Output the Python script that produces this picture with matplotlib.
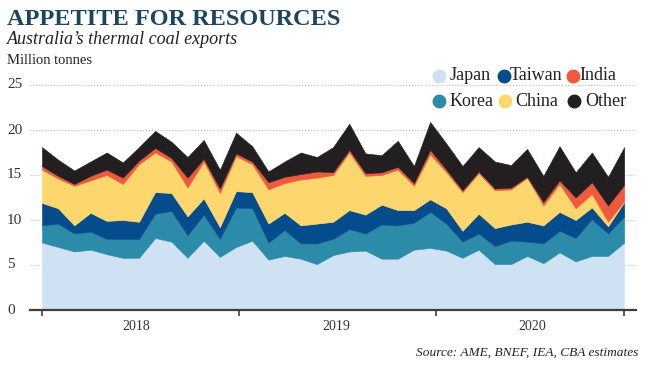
import matplotlib.pyplot as plt
import numpy as np
from matplotlib import transforms
from matplotlib.lines import Line2D

plt.rcParams["font.family"] = ["Liberation Serif", "DejaVu Serif"]

# monthly exports, million tonnes
japan = [7.5, 7.0, 6.5, 6.7, 6.2, 5.8, 5.8, 8.0, 7.6, 5.8, 7.7, 5.9, 7.0, 7.7, 5.6, 6.0, 5.7, 5.1, 6.1,
         6.5, 6.6, 5.7, 5.7, 6.7, 6.9, 6.6, 5.8, 6.7, 5.1, 5.1, 6.0, 5.2, 6.4, 5.4, 6.0, 6.0, 7.5]
korea = [1.9, 2.6, 2.0, 2.0, 1.7, 2.1, 2.1, 2.7, 3.4, 2.5, 2.9, 2.0, 4.4, 3.6, 1.9, 2.9, 1.7, 2.3, 1.8,
         2.5, 1.9, 3.8, 3.7, 3.0, 4.0, 3.0, 1.8, 1.8, 2.0, 2.6, 1.6, 2.2, 2.4, 2.6, 4.1, 2.5, 2.9]
taiwan = [2.5, 1.7, 0.9, 2.1, 2.0, 2.1, 1.9, 2.4, 2.0, 2.1, 1.8, 1.3, 1.8, 1.8, 2.1, 1.9, 2.0, 2.2, 1.9,
          2.1, 2.1, 2.2, 1.7, 1.4, 1.4, 1.7, 1.2, 2.2, 2.0, 1.8, 2.2, 2.0, 2.1, 2.0, 1.3, 0.8, 1.6]
china = [3.7, 3.3, 4.4, 3.6, 5.1, 4.0, 6.4, 4.4, 3.5, 3.2, 4.1, 3.8, 3.9, 3.1, 3.8, 3.3, 5.1, 5.1, 5.2,
         6.4, 4.3, 3.3, 4.5, 2.7, 5.0, 4.0, 4.3, 4.5, 4.2, 3.9, 4.9, 2.2, 3.1, 1.3, 1.5, 0.5, 0.1]
india = [0.4, 0.3, 0.2, 0.5, 0.6, 0.7, 0.4, 0.5, 0.4, 1.1, 0.3, 0.5, 0.3, 0.3, 0.8, 0.7, 0.6, 0.7, 0.3,
         0.3, 0.3, 0.3, 0.3, 0.3, 0.5, 0.3, 0.2, 0.2, 0.2, 0.2, 0.1, 0.4, 0.4, 1.2, 1.3, 1.8, 1.8]
other = [2.1, 1.8, 1.5, 1.6, 1.9, 1.7, 1.5, 1.9, 1.8, 2.3, 2.1, 2.1, 2.3, 1.7, 1.2, 1.7, 2.4, 1.6, 2.8,
         2.9, 2.2, 1.9, 2.9, 1.9, 3.1, 2.9, 2.7, 2.7, 3.0, 2.5, 3.1, 2.9, 3.8, 2.8, 3.3, 3.2, 4.2]

series_names = ["Japan", "Korea", "Taiwan", "China", "India", "Other"]
series_colors = ["#cfe2f3", "#2b8ba8", "#054c8c", "#fdd66d", "#ef5a3c", "#231f20"]
year_labels = ["2018", "2019", "2020"]
y_ticks = [0, 5, 10, 15, 20, 25]

# layout (month index units / pixels)
year_edges = [0, 12.17, 24.35, 36]
year_label_pos = [5.8, 18.2, 30.3]

W, H = 650, 366


def fx(px):
    return px / W


def fy(py):
    return 1 - py / H


fig = plt.figure(figsize=(W / 100, H / 100), dpi=100)
y_top = 25.5
ax = fig.add_axes([fx(30), fy(310), fx(636) - fx(30), y_top * 9 / H])

months = np.arange(len(japan))
polys = ax.stackplot(months, japan, korea, taiwan, china, india, other,
                     colors=series_colors, linewidth=0.4, zorder=2)
for poly, color in zip(polys, series_colors):
    poly.set_edgecolor(color)

ax.set_xlim(-0.74, 36.73)
ax.set_ylim(0, y_top)

ax.set_yticks(y_ticks)
ax.yaxis.grid(True, color="#bdbdbd", linestyle=(0, (1, 1.6)), linewidth=0.8)
ax.set_axisbelow(True)
ax.tick_params(axis="y", length=0, labelleft=False)

for side in ["top", "right", "left"]:
    ax.spines[side].set_visible(False)
ax.spines["bottom"].set_color("#3d3d3d")
ax.spines["bottom"].set_linewidth(1.6)
ax.spines["bottom"].set_zorder(5)

ax.set_xticks(year_edges)
ax.tick_params(axis="x", direction="out", length=4.5, width=1.2, color="#3d3d3d", labelbottom=False)

ylab_tf = transforms.blended_transform_factory(fig.transFigure, ax.transData)
for v in y_ticks:
    ax.text(fx(7), v, str(v), transform=ylab_tf, ha="left", va="center", fontsize=11, color="#333333")

xlab_tf = transforms.blended_transform_factory(ax.transData, fig.transFigure)
for pos, lab in zip(year_label_pos, year_labels):
    ax.text(pos, fy(327), lab, transform=xlab_tf, ha="center", va="center", fontsize=10, color="#333333")

# titles
fig.text(fx(7), fy(25), "APPETITE FOR RESOURCES", fontsize=17.5, fontweight="bold", color="#1c4660", va="baseline")
fig.text(fx(7), fy(44), "Australia\u2019s thermal coal exports", fontsize=13, style="italic", color="#222222",
         va="baseline")
fig.text(fx(7), fy(64), "Million tonnes", fontsize=10.5, color="#222222", va="baseline")
fig.text(fx(638), fy(353), "Source: AME, BNEF, IEA, CBA estimates", fontsize=9.6, style="italic",
         color="#222222", ha="right", va="center")

# legend, laid out in two rows like the original
legend_spots = {
    "Japan": (439, 450, 76), "Taiwan": (504, 510, 76), "India": (573, 579, 76),
    "Korea": (439, 450, 101), "China": (505, 515, 101), "Other": (574, 585, 101),
}
for name, color in zip(series_names, series_colors):
    cx, tx, cy = legend_spots[name]
    fig.add_artist(Line2D([fx(cx)], [fy(cy)], marker="o", markersize=9, color=color, linestyle="",
                          transform=fig.transFigure))
    fig.text(fx(tx), fy(cy), name, fontsize=13, color="#222222", ha="left", va="center")

fig.savefig("out.png", dpi=100)
